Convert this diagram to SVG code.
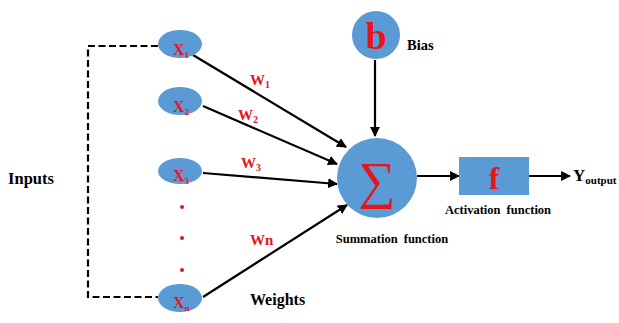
<svg xmlns="http://www.w3.org/2000/svg" width="619" height="323" viewBox="0 0 619 323">
<style>
.node{fill:#5b9bd5;}
.lbl{font-family:"Liberation Serif",serif;font-weight:bold;fill:#000;}
.red{font-family:"Liberation Serif",serif;font-weight:bold;fill:#e8141c;}
.edge{stroke:#000;stroke-width:2.2;fill:none;}
.dash{stroke:#000;stroke-width:2.2;fill:none;stroke-dasharray:7,3.5;}
</style>
<defs>
<marker id="ah" viewBox="0 0 10 10" refX="9" refY="5" markerWidth="4.5" markerHeight="4.5" orient="auto" markerUnits="strokeWidth">
<path d="M0,0 L10,5 L0,10 z" fill="#000"/>
</marker>
</defs>
<rect width="619" height="323" fill="#fff"/>
<g id="connectors">
<path class="dash" d="M158,46 H88 V297 H158"/>
<line class="edge" x1="193" y1="55" x2="346" y2="147" marker-end="url(#ah)"/>
<line class="edge" x1="203" y1="106" x2="337" y2="164" marker-end="url(#ah)"/>
<line class="edge" x1="203" y1="173" x2="337" y2="184" marker-end="url(#ah)"/>
<line class="edge" x1="203" y1="297" x2="347" y2="205" marker-end="url(#ah)"/>
<line class="edge" x1="375" y1="60" x2="375" y2="136" marker-end="url(#ah)"/>
<line class="edge" x1="417" y1="176" x2="459" y2="176" marker-end="url(#ah)"/>
<line class="edge" x1="529" y1="176" x2="570" y2="176" marker-end="url(#ah)"/>
<text class="red" x="250" y="85" font-size="15">W<tspan font-size="10" dy="3">1</tspan></text>
<text class="red" x="238" y="120" font-size="15">W<tspan font-size="10" dy="3">2</tspan></text>
<text class="red" x="241" y="168" font-size="15">W<tspan font-size="10" dy="3">3</tspan></text>
<text class="red" x="250" y="245" font-size="15">Wn</text>
</g>
<g id="x1"><ellipse class="node" cx="180" cy="44" rx="22" ry="14"/><text class="red" x="173" y="55" font-size="16">X<tspan font-size="9" dy="3">1</tspan></text></g>
<g id="x2"><ellipse class="node" cx="180" cy="101" rx="22" ry="14"/><text class="red" x="173" y="112" font-size="16">X<tspan font-size="9" dy="3">2</tspan></text></g>
<g id="x3"><ellipse class="node" cx="180" cy="171" rx="22" ry="13"/><text class="red" x="173" y="181" font-size="16">X<tspan font-size="9" dy="3">3</tspan></text></g>
<g id="dots">
<circle cx="182" cy="207" r="2" fill="#e8141c"/>
<circle cx="182" cy="238" r="2" fill="#e8141c"/>
<circle cx="182" cy="270" r="2" fill="#e8141c"/>
</g>
<g id="xn"><ellipse class="node" cx="180" cy="298" rx="22" ry="14"/><text class="red" x="173" y="308" font-size="16">X<tspan font-size="9" dy="3">n</tspan></text></g>
<g id="inputs"><text class="lbl" x="31" y="184" font-size="16.5" text-anchor="middle">Inputs</text></g>
<g id="weights"><text class="lbl" x="250" y="305" font-size="16">Weights</text></g>
<g id="bias"><circle class="node" cx="376" cy="35" r="24"/><text class="red" x="376" y="49" font-size="38" text-anchor="middle">b</text><text class="lbl" x="407" y="50" font-size="14.5">Bias</text></g>
<g id="sum"><circle class="node" cx="377" cy="178" r="40"/><text x="377" y="198" font-size="52" text-anchor="middle" fill="#e8141c" font-family="Liberation Serif,serif">∑</text><text class="lbl" x="392" y="243" font-size="12.5" text-anchor="middle" word-spacing="3">Summation function</text></g>
<g id="act"><rect class="node" x="459" y="157" width="70" height="38"/><text class="red" x="494" y="189" font-size="32" text-anchor="middle">f</text><text class="lbl" x="498" y="214" font-size="12.5" text-anchor="middle" word-spacing="3">Activation function</text></g>
<g id="output"><text class="lbl" x="573" y="181" font-size="17">Y<tspan font-size="11" dy="3">output</tspan></text></g>
</svg>
